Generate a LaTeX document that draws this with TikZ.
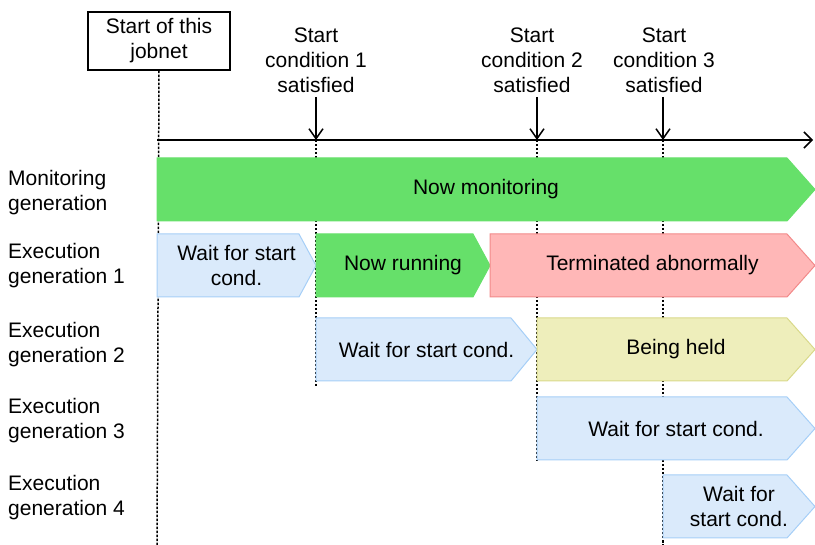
\documentclass[tikz,border=0pt]{standalone}
\usepackage{fontspec}
\setmainfont{Liberation Sans}
\usepackage{xcolor}
\usetikzlibrary{arrows.meta,positioning}

\definecolor{rungreen}{HTML}{66E06A}
\definecolor{waitfill}{HTML}{DAEAFB}
\definecolor{waitline}{HTML}{A6CFF7}
\definecolor{errfill}{HTML}{FFB7B7}
\definecolor{errline}{HTML}{F28A8A}
\definecolor{holdfill}{HTML}{EEEEBB}
\definecolor{holdline}{HTML}{D9D98A}

% #1 tip depth, #2 style, #3 left x, #4 tip x, #5 top y, #6 name, #7 text
\newcommand{\genbar}[7][17]{%
  \draw[#2] (#3,#5) -- ({#4-#1},#5) -- (#4,{#5+31.5}) -- ({#4-#1},{#5+63}) -- (#3,{#5+63}) -- cycle;
  \node[bartext] (#6) at ({(#3+#4)/2},{#5+31.5}) {#7};}

\begin{document}
\begin{tikzpicture}[
    x=1pt, y=-1pt,
    every node/.style={font=\fontsize{21}{25}\selectfont, inner sep=0pt},
    bartext/.style={align=center},
    rowlabel/.style={align=left, anchor=west},
    condlabel/.style={align=center},
    jobbox/.style={draw, line width=1.5pt, minimum width=142pt, minimum height=58pt, align=center},
    timeline/.style={line width=1.5pt, dash pattern=on 2.5pt off 1.5pt},
    axisline/.style={line width=1.5pt, -{Straight Barb[length=8pt,width=16pt,line width=1.5pt]}},
    arr/.style={line width=1.5pt, -{Straight Barb[length=10pt,width=14pt,line width=1.5pt]}},
    runbar/.style={fill=rungreen, draw=rungreen, line width=1pt},
    waitbar/.style={fill=waitfill, draw=waitline, line width=1pt},
    errbar/.style={fill=errfill, draw=errline, line width=1pt},
    holdbar/.style={fill=holdfill, draw=holdline, line width=1pt}
  ]
    \useasboundingbox (0,0) rectangle (815,545);

    \node[jobbox] (jobnet) at (159,41) {Start of this\\jobnet};
    \node[condlabel] (cond1) at (316,60) {Start\\condition 1\\satisfied};
    \node[condlabel] (cond2) at (532,60) {Start\\condition 2\\satisfied};
    \node[condlabel] (cond3) at (664,60) {Start\\condition 3\\satisfied};

    \coordinate (t0) at (157,140);
    \coordinate (t1) at (316,140);
    \coordinate (t2) at (537,140);
    \coordinate (t3) at (663,140);
    \coordinate (tend) at (813,140);

    \draw[timeline] (jobnet.south) -- (157,545);
    \draw[timeline] (t1) -- (316,387);
    \draw[timeline] (t2) -- (537,461);
    \draw[timeline] (t3) -- (663,545);

    \draw[axisline] (t0) -- (tend);
    \draw[arr] (316,97) -- (t1);
    \draw[arr] (537,97) -- (t2);
    \draw[arr] (663,97) -- (t3);

    \node[rowlabel] (monlabel) at (8,193) {Monitoring\\generation};
    \node[rowlabel] (gen1label) at (8,266) {Execution\\generation 1};
    \node[rowlabel] (gen2label) at (8,345) {Execution\\generation 2};
    \node[rowlabel] (gen3label) at (8,421) {Execution\\generation 3};
    \node[rowlabel] (gen4label) at (8,498) {Execution\\generation 4};

    \genbar[28]{runbar}{157}{815}{158}{monitor}{Now monitoring}
    \genbar{waitbar}{157}{316}{234}{wait1}{Wait for start\\cond.}
    \genbar{runbar}{316}{490}{234}{run1}{Now running}
    \genbar[28]{errbar}{490}{815}{234}{abend1}{Terminated abnormally}
    \genbar[26]{waitbar}{316}{537}{318}{wait2}{Wait for start cond.}
    \genbar[28]{holdbar}{537}{815}{318}{hold2}{Being held}
    \genbar[28]{waitbar}{537}{815}{397}{wait3}{Wait for start cond.}
    \genbar[28]{waitbar}{663}{815}{475}{wait4}{Wait for\\start cond.}
  \end{tikzpicture}
\end{document}
